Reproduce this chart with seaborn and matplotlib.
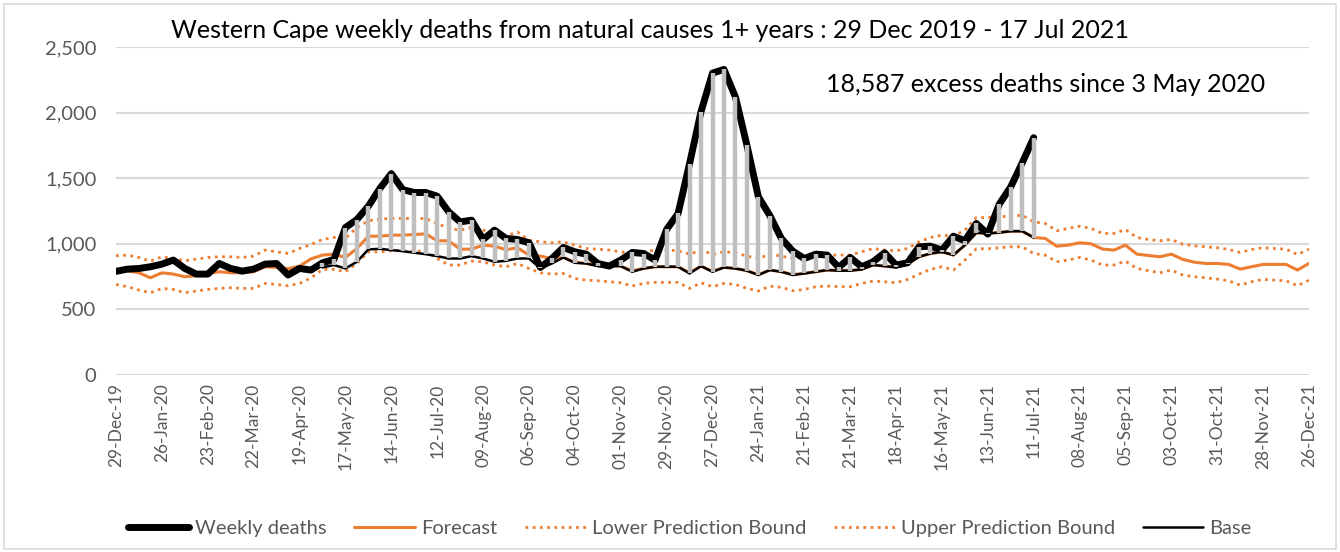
import numpy as np
import pandas as pd
import seaborn as sns
import matplotlib.pyplot as plt
from matplotlib.patches import Rectangle

# weekly data, week 0 = 29 Dec 2019
weekly_deaths = [790, 807, 812, 825, 845, 876, 812, 769, 769, 850,
                 812, 792, 807, 845, 850, 762, 812, 800, 855, 881,
                 1124, 1185, 1287, 1421, 1535, 1413, 1391, 1391, 1363, 1244,
                 1167, 1180, 1033, 1104, 1041, 1033, 1008, 820, 888, 972,
                 939, 921, 850, 830, 876, 934, 926, 876, 1109, 1231,
                 1611, 2008, 2301, 2329, 2119, 1751, 1358, 1215, 1041, 944,
                 888, 921, 914, 820, 896, 825, 863, 932, 838, 855,
                 977, 982, 952, 1058, 1023, 1155, 1074, 1302, 1434, 1617,
                 1809]

# base starts at week 18 (3 May 2020)
base_start = 18
base = [820, 838, 812, 863, 957, 962, 952, 944, 932, 921,
        906, 888, 888, 906, 888, 863, 870, 888, 888, 812,
        850, 896, 855, 850, 830, 830, 830, 787, 812, 825,
        825, 825, 774, 830, 787, 820, 812, 795, 762, 800,
        787, 762, 774, 787, 800, 795, 795, 805, 838, 830,
        820, 845, 901, 926, 939, 914, 990, 1084, 1079, 1086,
        1096, 1096, 1048]

forecast = [807, 795, 779, 741, 779, 769, 749, 757, 774, 787,
            779, 779, 787, 825, 820, 810, 830, 885, 914, 921,
            896, 964, 1058, 1058, 1066, 1066, 1071, 1076, 1023, 1023,
            959, 959, 990, 982, 955, 970, 914, 906, 888, 896,
            860, 850, 835, 830, 830, 795, 812, 825, 825, 825,
            780, 830, 790, 820, 812, 795, 765, 800, 787, 765,
            775, 787, 800, 797, 797, 805, 838, 830, 822, 845,
            901, 926, 939, 914, 990, 1084, 1079, 1086, 1096, 1096,
            1048, 1041, 982, 990, 1008, 1000, 960, 952, 990, 921,
            911, 901, 921, 881, 860, 850, 850, 843, 807, 825,
            843, 843, 843, 800, 850]

upper = [909, 914, 896, 868, 901, 888, 871, 883, 896, 901,
         901, 896, 906, 952, 939, 926, 964, 995, 1033, 1048,
         1041, 1124, 1175, 1188, 1193, 1193, 1193, 1193, 1155, 1117,
         1104, 1124, 1104, 1091, 1060, 1090, 1028, 1015, 1008, 1015,
         990, 964, 959, 952, 939, 926, 939, 952, 952, 947,
         921, 952, 920, 939, 932, 906, 888, 921, 906, 888,
         896, 914, 914, 914, 914, 939, 964, 952, 947, 964,
         1015, 1048, 1066, 1058, 1104, 1200, 1200, 1206, 1211, 1218,
         1167, 1155, 1099, 1117, 1134, 1117, 1079, 1079, 1109, 1048,
         1033, 1023, 1033, 997, 985, 977, 970, 957, 934, 957,
         970, 964, 959, 919, 959]

lower = [690, 673, 647, 627, 660, 652, 627, 640, 652, 660,
         665, 660, 660, 698, 690, 680, 698, 740, 805, 805,
         787, 850, 939, 939, 947, 947, 944, 944, 888, 838,
         838, 868, 863, 838, 825, 850, 812, 779, 769, 774,
         736, 723, 718, 711, 703, 678, 698, 706, 706, 706,
         660, 703, 673, 698, 690, 660, 640, 678, 668, 642,
         652, 673, 678, 673, 673, 698, 716, 711, 703, 728,
         769, 805, 825, 800, 876, 962, 962, 970, 977, 977,
         926, 914, 863, 876, 896, 876, 838, 838, 868, 812,
         795, 779, 800, 762, 749, 741, 731, 718, 685, 711,
         729, 723, 718, 680, 723]

tick_labels = ['29-Dec-19', '26-Jan-20', '23-Feb-20', '22-Mar-20', '19-Apr-20',
               '17-May-20', '14-Jun-20', '12-Jul-20', '09-Aug-20', '06-Sep-20',
               '04-Oct-20', '01-Nov-20', '29-Nov-20', '27-Dec-20', '24-Jan-21',
               '21-Feb-21', '21-Mar-21', '18-Apr-21', '16-May-21', '13-Jun-21',
               '11-Jul-21', '08-Aug-21', '05-Sep-21', '03-Oct-21', '31-Oct-21',
               '28-Nov-21', '26-Dec-21']

ORANGE = '#ED7D31'
GREY_TXT = '#595959'

sns.set_style('white')
plt.rcParams['font.family'] = ['Lato', 'DejaVu Sans']

weeks = np.arange(len(forecast))
wk_obs = weeks[:len(weekly_deaths)]
wk_base = weeks[base_start:base_start + len(base)]

fig = plt.figure(figsize=(13.4, 5.52), dpi=100)
ax = fig.add_axes([116 / 1340, 1 - 375 / 552, (1309 - 116) / 1340, (375 - 47) / 552])

# bounds and forecast
sns.lineplot(x=weeks, y=lower, ax=ax, color=ORANGE, linewidth=2,
             linestyle=(0, (1, 1.6)), label='Lower Prediction Bound', zorder=2)
sns.lineplot(x=weeks, y=upper, ax=ax, color=ORANGE, linewidth=2,
             linestyle=(0, (1, 1.6)), label='Upper Prediction Bound', zorder=2)
sns.lineplot(x=weeks, y=forecast, ax=ax, color=ORANGE, linewidth=2.2,
             label='Forecast', zorder=3)
sns.lineplot(x=wk_obs, y=weekly_deaths, ax=ax, color='black', linewidth=5,
             label='Weekly deaths', zorder=4)
sns.lineplot(x=wk_base, y=base, ax=ax, color='black', linewidth=1.8,
             label='Base', zorder=5)

# excess deaths bars
ax.vlines(wk_base, base, weekly_deaths[base_start:], color='#BFBFBF',
          linewidth=3.2, zorder=6)

ax.set_xlim(0, len(forecast) - 1)
ax.set_ylim(0, 2500)
ax.set_yticks(range(0, 2501, 500))
ax.set_yticklabels([f'{v:,}' for v in range(0, 2501, 500)])
ax.set_xticks(weeks[::4])
ax.set_xticklabels(tick_labels, rotation=90)
ax.tick_params(axis='both', colors=GREY_TXT, length=0, labelsize=12.5)
ax.tick_params(axis='y', labelsize=14.5, pad=14)
ax.tick_params(axis='x', pad=6)
ax.grid(axis='y', color='#D9D9D9', linewidth=1.5)
ax.set_axisbelow(True)
sns.despine(ax=ax, left=True, bottom=True)
ax.set_xlabel('')
ax.set_ylabel('')

fig.text(650 / 1340, 1 - 30 / 552,
         'Western Cape weekly deaths from natural causes 1+ years : 29 Dec 2019 - 17 Jul 2021',
         ha='center', va='center', fontsize=18, color='black')
ax.text(1046 / 1340, 1 - 84 / 552, '18,587 excess deaths since 3 May 2020',
        transform=fig.transFigure, ha='center', va='center', fontsize=18, color='black')

handles, labels = ax.get_legend_handles_labels()
order = ['Weekly deaths', 'Forecast', 'Lower Prediction Bound',
         'Upper Prediction Bound', 'Base']
hmap = dict(zip(labels, handles))
ax.legend([hmap[k] for k in order], order, loc='center',
          bbox_to_anchor=(690 / 1340, 1 - 528 / 552), bbox_transform=fig.transFigure,
          ncol=5, frameon=False, fontsize=14.5, labelcolor=GREY_TXT,
          handlelength=3.0, columnspacing=1.4, handletextpad=0.3)

fig.patches.append(Rectangle((4 / 1340, 3 / 552), 1332 / 1340, 545 / 552,
                             transform=fig.transFigure, fill=False,
                             edgecolor='#D9D9D9', linewidth=1.2))

fig.savefig('out.png', dpi=100)
